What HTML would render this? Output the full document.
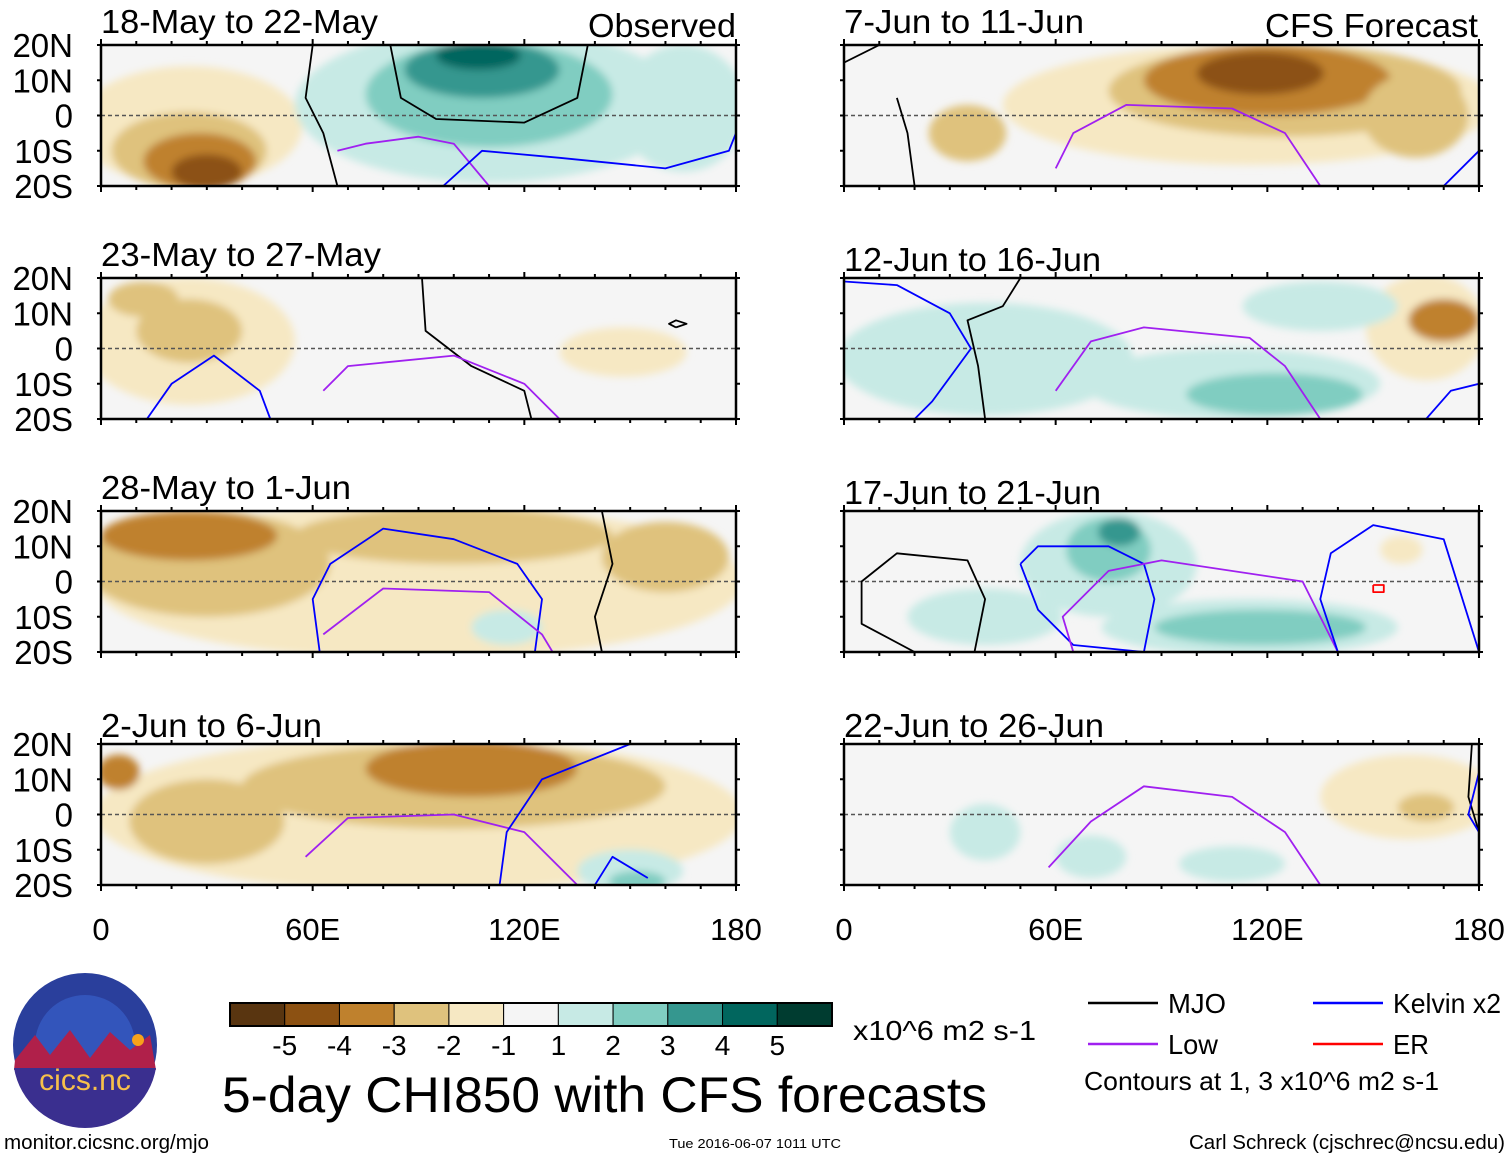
<!DOCTYPE html>
<html><head><meta charset="utf-8"><style>
html,body{margin:0;padding:0;background:#fff;}
svg{display:block;font-family:"Liberation Sans",sans-serif;}
</style></head><body>
<svg id="chart" width="1510" height="1158" viewBox="0 0 1510 1158">
<defs>
<filter id="blur" x="-20%" y="-20%" width="140%" height="140%"><feGaussianBlur stdDeviation="4"/></filter>
</defs>
<g id="panels"></g>
<g id="bottom"></g>
</svg>
<script>
const levelColors=['#593510','#8c5112','#bf812d','#dfc27d','#f6e8c3','#f5f5f5','#c7eae5','#80cdc1','#35978f','#01665e','#003c30'];
const levelIndex={'-5':0,'-4':1,'-3':2,'-2':3,'-1':4,'1':6,'2':7,'3':8,'4':9,'5':10};
const panelTitles=['18-May to 22-May','23-May to 27-May','28-May to 1-Jun','2-Jun to 6-Jun','7-Jun to 11-Jun','12-Jun to 16-Jun','17-Jun to 21-Jun','22-Jun to 26-Jun'];
const latTicks=['20N','10N','0','10S','20S'];
const lonTicks=['0','60E','120E','180'];
// anomaly blobs: [lon, lat, halfLon, halfLat, level]
const blobs=[
 [[25,-3,32,17,-1],[25,-10,22,11,-2],[28,-13,16,8,-3],[30,-16,10,5,-4],[110,3,55,22,1],[165,2,18,18,1],[110,6,35,15,2],[108,13,22,8,3],[107,17,12,4,4]],
 [[25,2,30,18,-1],[25,5,15,9,-2],[12,14,10,5,-2],[148,-1,18,7,-1]],
 [[90,0,92,22,-1],[30,5,35,15,-2],[25,13,25,7,-3],[100,13,45,8,-2],[160,7,18,10,-2],[115,-13,10,5,1]],
 [[90,0,92,22,-1],[100,8,60,12,-2],[105,13,30,8,-3],[5,12,6,5,-3],[30,-2,22,12,-2],[150,-16,15,6,1],[152,-19,8,3,2]],
 [[115,3,70,17,-1],[125,7,50,13,-2],[120,10,35,10,-3],[118,12,18,6,-4],[35,-5,11,8,-2],[162,0,15,12,-2]],
 [[40,-3,42,16,1],[110,-10,42,10,1],[122,-13,25,6,2],[165,6,17,15,-1],[170,8,10,6,-3],[135,12,22,7,1]],
 [[75,5,25,15,1],[75,9,12,9,2],[78,14,6,4,3],[115,-13,42,8,1],[118,-13,30,5,2],[40,-10,22,8,1],[158,9,6,4,-1]],
 [[160,5,25,12,-1],[165,2,8,4,-2],[110,-14,15,5,1],[70,-12,10,6,1],[40,-5,10,8,1]]
];
// contours: [color, [[lon,lat],...]]
const contours=[
 [['#000',[[60,20],[58,5],[63,-5],[67,-20]]],['#000',[[82,20],[85,5],[95,-1],[120,-2],[135,5],[138,20]]],['#a020f0',[[67,-10],[75,-8],[90,-6],[100,-8],[110,-20]]],['#0000ff',[[97,-20],[108,-10],[130,-12],[160,-15],[178,-10],[180,-5]]]],
 [['#000',[[91,20],[92,5],[105,-5],[120,-12],[122,-20]]],['#a020f0',[[63,-12],[70,-5],[100,-2],[120,-10],[130,-20]]],['#0000ff',[[13,-20],[20,-10],[32,-2],[45,-12],[48,-20]]],['#000',[[163,6],[166,7],[163,8],[161,7],[163,6]]]],
 [['#0000ff',[[62,-20],[60,-5],[65,5],[80,15],[100,12],[118,5],[125,-5],[123,-20]]],['#a020f0',[[63,-15],[80,-2],[110,-3],[125,-15],[128,-20]]],['#000',[[142,20],[145,5],[140,-10],[142,-20]]]],
 [['#a020f0',[[58,-12],[70,-1],[100,0],[120,-5],[135,-20]]],['#0000ff',[[113,-20],[115,-5],[125,10],[150,20]]],['#0000ff',[[140,-20],[145,-12],[155,-18]]]],
 [['#000',[[0,15],[10,20]]],['#000',[[15,5],[18,-5],[20,-20]]],['#a020f0',[[60,-15],[65,-5],[80,3],[110,2],[125,-5],[135,-20]]],['#0000ff',[[170,-20],[180,-10]]]],
 [['#0000ff',[[0,19],[15,18],[30,10],[36,0],[25,-15],[20,-20]]],['#000',[[50,20],[45,12],[35,8],[38,-5],[40,-20]]],['#a020f0',[[60,-12],[70,2],[85,6],[115,3],[125,-5],[135,-20]]],['#0000ff',[[165,-20],[172,-12],[180,-10]]]],
 [['#000',[[20,-20],[5,-12],[5,0],[15,8],[35,6],[40,-5],[37,-20]]],['#0000ff',[[50,5],[55,10],[75,10],[85,5],[88,-5],[85,-20],[65,-18],[55,-8],[50,5]]],['#a020f0',[[65,-20],[62,-10],[75,3],[90,6],[130,0],[140,-20]]],['#0000ff',[[140,-20],[135,-5],[138,8],[150,16],[170,12],[180,-20]]],['#ff0000',[[150,-1],[153,-1],[153,-3],[150,-3],[150,-1]]]],
 [['#a020f0',[[58,-15],[70,-2],[85,8],[110,5],[125,-5],[135,-20]]],['#000',[[178,20],[177,5],[180,-5]]],['#0000ff',[[180,12],[177,0],[180,-5]]]]
];
const NS='http://www.w3.org/2000/svg';
function mk(tag,attrs,parent){const e=document.createElementNS(NS,tag);for(const k in attrs)e.setAttribute(k,attrs[k]);if(parent)parent.appendChild(e);return e;}
const PW=635,PH=141;
const colX=[101,844], rowY=[45,278,511,744];
const titleBase=[[33,266,499,737],[33,271,504,737]];
const titleW=[[277,280,250,221],[240,257,257,260]];
const pg=document.getElementById('panels');
for(let p=0;p<8;p++){
  const col=p<4?0:1,row=p%4,x0=colX[col],y0=rowY[row];
  const xs=lon=>x0+lon/180*PW, ys=lat=>y0+(20-lat)/40*PH;
  const g=mk('g',{},pg);
  
  
  mk('clipPath',{id:'cp'+p},g).appendChild(mk('rect',{x:x0,y:y0,width:PW,height:PH}));
  const bg=mk('rect',{x:x0,y:y0,width:PW,height:PH,fill:'#f5f5f5'},g);
  
  const fill=mk('g',{'clip-path':'url(#cp'+p+')'},g);
  const fg=mk('g',{filter:'url(#blur)'},fill);
  blobs[p].forEach(b=>{
    const e=mk('ellipse',{cx:xs(b[0]),cy:ys(b[1]),rx:b[2]/180*PW,ry:b[3]/40*PH,fill:levelColors[levelIndex[String(b[4])]]},fg);
    
    
  });
  mk('line',{x1:x0,x2:x0+PW,y1:ys(0),y2:ys(0),stroke:'#555','stroke-width':1.5,'stroke-dasharray':'4,3'},fill);
  contours[p].forEach(c=>{
    const d=c[1].map((q,i)=>(i?'L':'M')+xs(q[0]).toFixed(1)+','+ys(q[1]).toFixed(1)).join('');
    const l=mk('path',{d:d,fill:'none',stroke:c[0],'stroke-width':1.8,'stroke-linejoin':'round'},fill);
    
    
  });
  mk('rect',{x:x0,y:y0,width:PW,height:PH,fill:'none',stroke:'#000','stroke-width':2.5},g);
  for(let k=0;k<=18;k++){const tx=x0+k*PW/18,len=k%6==0?6:4;
    mk('line',{x1:tx,x2:tx,y1:y0-len,y2:y0,stroke:'#000','stroke-width':2},g);
    mk('line',{x1:tx,x2:tx,y1:y0+PH,y2:y0+PH+len,stroke:'#000','stroke-width':2},g);}
  for(let k=0;k<=4;k++){const ty=y0+k*PH/4;
    mk('line',{x1:x0-4,x2:x0,y1:ty,y2:ty,stroke:'#000','stroke-width':2},g);
    mk('line',{x1:x0+PW,x2:x0+PW+4,y1:ty,y2:ty,stroke:'#000','stroke-width':2},g);}
  const t=mk('text',{x:x0,y:titleBase[col][row],'font-size':33,textLength:titleW[col][row],lengthAdjust:'spacingAndGlyphs'},g);
  t.textContent=panelTitles[p];
  
  
  if(col==0){latTicks.forEach((s,k)=>{
    const lt=mk('text',{x:73,y:y0+k*PH/4+12,'font-size':33,'text-anchor':'end'},g);
    lt.textContent=s;
    
    
  });}
}
function txt(s,x,y,size,name,anchor,w){const t=mk('text',{x:x,y:y,'font-size':size},document.getElementById('bottom'));if(anchor)t.setAttribute('text-anchor',anchor);if(w){t.setAttribute('textLength',w);t.setAttribute('lengthAdjust','spacingAndGlyphs');}t.textContent=s;return t;}
txt('Observed',588,37,33,'observed-label',null,148);
txt('CFS Forecast',1265,37,33,'cfs-forecast-label',null,213);
[0,1].forEach(c=>lonTicks.forEach((s,k)=>{const t=txt(s,colX[c]+k*PW/3,940,31,'lon-tick-label','middle');}));
const bt=document.getElementById('bottom');
const cbX=230,cbW=602,cbY=1003,cbH=23;
levelColors.forEach((c,i)=>{const r=mk('rect',{x:cbX+i*cbW/11,y:cbY,width:cbW/11,height:cbH,fill:c,stroke:'#000','stroke-width':1},bt);});
mk('rect',{x:cbX,y:cbY,width:cbW,height:cbH,fill:'none',stroke:'#000','stroke-width':2},bt);
['-5','-4','-3','-2','-1','1','2','3','4','5'].forEach((s,i)=>txt(s,cbX+(i+1)*cbW/11,1055,28,'colorbar-label','middle'));
txt('x10^6 m2 s-1',853,1040,28,'colorbar-units',null,183);
txt('5-day CHI850 with CFS forecasts',222,1112,50,'main-title',null,765);
const leg=[['MJO','#000',1088,1003,58],['Kelvin x2','#0000ff',1313,1003,108],['Low','#a020f0',1088,1044,50],['ER','#ff0000',1313,1044,36]];
leg.forEach(l=>{const ln=mk('line',{x1:l[2],x2:l[2]+70,y1:l[3],y2:l[3],stroke:l[1],'stroke-width':2.5},bt);txt(l[0],l[2]+80,l[3]+10,28,'legend-entry',null,l[4]);});
txt('Contours at 1, 3 x10^6 m2 s-1',1084,1090,26,'contour-note',null,355);
txt('monitor.cicsnc.org/mjo',4,1149,20,'footer-url',null,205);
txt('Tue 2016-06-07 1011 UTC',669,1148,13,'footer-date',null,172);
txt('Carl Schreck (cjschrec@ncsu.edu)',1189,1149,20,'footer-author',null,316);
const logo=mk('g',{},bt);
mk('circle',{cx:85,cy:1045,r:72,fill:'#2a3f9c'},logo);
mk('circle',{cx:85,cy:1045,r:50,fill:'#3355bb'},logo);
mk('path',{d:'M15,1060 L35,1035 L50,1055 L70,1030 L90,1058 L110,1032 L130,1050 L150,1035 L156,1070 L14,1070Z',fill:'#b0204a'},logo);
mk('path',{d:'M14,1068 L156,1068 A72,72 0 0 1 14,1068Z',fill:'#3a2f8f'},logo);
mk('circle',{cx:138,cy:1040,r:6,fill:'#f7a21b'},logo);
const lt=mk('text',{x:85,y:1090,'font-size':30,'text-anchor':'middle',fill:'#f7c04a'},logo);lt.textContent='cics.nc';
</script>
</body></html>
